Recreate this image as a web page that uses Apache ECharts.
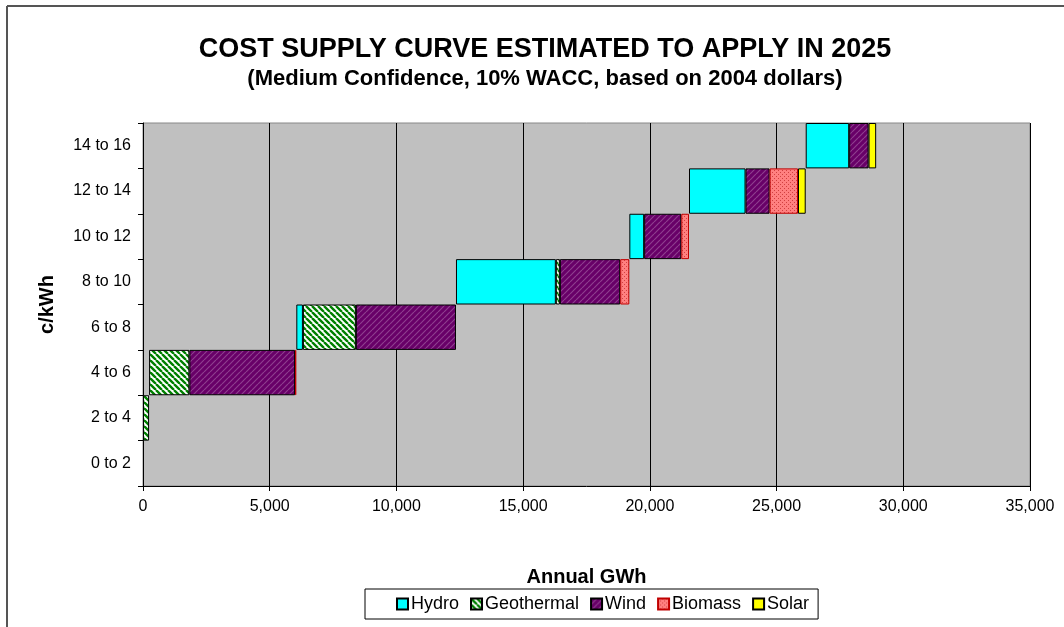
<!DOCTYPE html>
<html>
<head>
<meta charset="utf-8">
<script src="https://cdn.jsdelivr.net/npm/echarts@6/dist/echarts.min.js"></script>
<style>
html,body{margin:0;padding:0;background:#fff;}
#chart{width:1064px;height:627px;}
</style>
</head>
<body>
<div id="chart"></div>
<script>
// ---- data ----
var categories = ['0 to 2','2 to 4','4 to 6','6 to 8','8 to 10','10 to 12','12 to 14','14 to 16'];
var hydro      = [0,    0,    0,  260, 3940,  585, 2230, 1715];
var geothermal = [0,  240, 1590, 2090,  160,    0,    0,    0];
var wind       = [0,    0, 4170, 3950, 2380, 1465,  950,  765];
var biomass    = [0,    0,   50,    0,  360,  305, 1120,    0];
var solar      = [0,    0,    0,    0,    0,    0,  305,  300];
var xTicks = [0,5000,10000,15000,20000,25000,30000,35000];

// offset of each band = where the previous band ended (supply curve)
var offset = [];
var run = 0;
for (var i = 0; i < categories.length; i++) {
  offset.push(run);
  run += hydro[i] + geothermal[i] + wind[i] + biomass[i] + solar[i];
}

function stripe(bg, fg, w, size, dir) {
  var c = document.createElement('canvas');
  c.width = size; c.height = size;
  var g = c.getContext('2d');
  g.fillStyle = bg; g.fillRect(0,0,size,size);
  g.strokeStyle = fg; g.lineWidth = w;
  g.beginPath();
  for (var k = -1; k <= 1; k++) {
    if (dir === '\\') { g.moveTo(k*size, 0); g.lineTo(k*size+size, size); }
    else { g.moveTo(k*size, size); g.lineTo(k*size+size, 0); }
  }
  g.stroke();
  return {image: c, repeat: 'repeat'};
}
function dots(bg, fg) {
  var c = document.createElement('canvas');
  c.width = 4; c.height = 4;
  var g = c.getContext('2d');
  g.fillStyle = bg; g.fillRect(0,0,4,4);
  g.fillStyle = fg; g.fillRect(0,0,1,1); g.fillRect(2,2,1,1);
  return {image: c, repeat: 'repeat'};
}

var geoFill = stripe('#ffffff', '#008000', 2.4, 6, '\\');
var windFill = stripe('#680068', '#8e3e8e', 1.2, 6, '/');
var bioFill = dots('#ff8080', '#d04040');

function seg(name, data, fill, border) {
  return {
    name: name, type: 'bar', stack: 'curve',
    data: data.map(function (v) { return v === 0 ? '-' : v; }),
    barWidth: '100%', barCategoryGap: '0%',
    itemStyle: {color: fill, borderColor: border, borderWidth: 1},
    emphasis: {disabled: true}
  };
}

var chart = echarts.init(document.getElementById('chart'), null, {renderer: 'canvas'});
var FONT = 'Liberation Sans, Arial, sans-serif';
chart.setOption({
  backgroundColor: '#ffffff',
  animation: false,
  title: [
    {text: 'COST SUPPLY CURVE ESTIMATED TO APPLY IN 2025', left: 540, top: 31, textAlign: 'center',
     textStyle: {fontFamily: FONT, fontWeight: 'bold', fontSize: 27, color: '#000'}},
    {text: '(Medium Confidence, 10% WACC, based on 2004 dollars)', left: 540, top: 63, textAlign: 'center',
     textStyle: {fontFamily: FONT, fontWeight: 'bold', fontSize: 22, color: '#000'}}
  ],
  graphic: [
    {type: 'line', shape: {x1: 7, y1: 6, x2: 1064, y2: 6}, style: {stroke: '#555', lineWidth: 2}},
    {type: 'line', shape: {x1: 7, y1: 6, x2: 7, y2: 627}, style: {stroke: '#555', lineWidth: 2}}
  ],
  legend: {
    data: ['Hydro','Geothermal','Wind','Biomass','Solar'],
    left: 365, top: 589, orient: 'horizontal',
    padding: [6, 9, 6, 31],
    itemWidth: 11, itemHeight: 11, itemGap: 11,
    borderColor: '#000', borderWidth: 1,
    icon: 'rect',
    textStyle: {fontFamily: FONT, fontSize: 18, color: '#000', padding: [0,0,0,-2]},
    selectedMode: false
  },
  grid: {left: 143, right: 34, top: 123, bottom: 141, show: true, backgroundColor: '#c0c0c0', borderColor: '#888', borderWidth: 1},
  xAxis: {
    type: 'value', min: 0, max: 35000, interval: 5000,
    name: 'Annual GWh', nameLocation: 'middle', nameGap: 81,
    nameTextStyle: {fontFamily: FONT, fontWeight: 'bold', fontSize: 20, color: '#000'},
    axisLine: {show: true, lineStyle: {color: '#000', width: 1}},
    axisTick: {show: true, length: 5, lineStyle: {color: '#000'}},
    axisLabel: {fontFamily: FONT, fontSize: 16, color: '#000', margin: 13,
      formatter: function (v) { return v.toLocaleString('en-US'); }},
    splitLine: {show: true, lineStyle: {color: '#000', width: 1}}
  },
  yAxis: {
    type: 'category', data: categories,
    name: 'c/kWh', nameLocation: 'middle', nameGap: 86, nameRotate: 90,
    nameTextStyle: {fontFamily: FONT, fontWeight: 'bold', fontSize: 20, color: '#000'},
    axisLine: {show: true, lineStyle: {color: '#000', width: 1}},
    axisTick: {show: true, length: 5, alignWithLabel: false, lineStyle: {color: '#000'}},
    axisLabel: {fontFamily: FONT, fontSize: 16, color: '#000', margin: 12},
    splitLine: {show: false}
  },
  series: [
    {name: 'base', type: 'bar', stack: 'curve', data: offset, barWidth: '100%', barCategoryGap: '0%',
     itemStyle: {color: 'rgba(0,0,0,0)', borderWidth: 0}, emphasis: {disabled: true}, silent: true},
    seg('Hydro', hydro, '#00ffff', '#000'),
    seg('Geothermal', geothermal, geoFill, '#000'),
    seg('Wind', wind, windFill, '#000'),
    seg('Biomass', biomass, bioFill, '#c00000'),
    seg('Solar', solar, '#ffff00', '#000')
  ]
});
</script>
</body>
</html>
